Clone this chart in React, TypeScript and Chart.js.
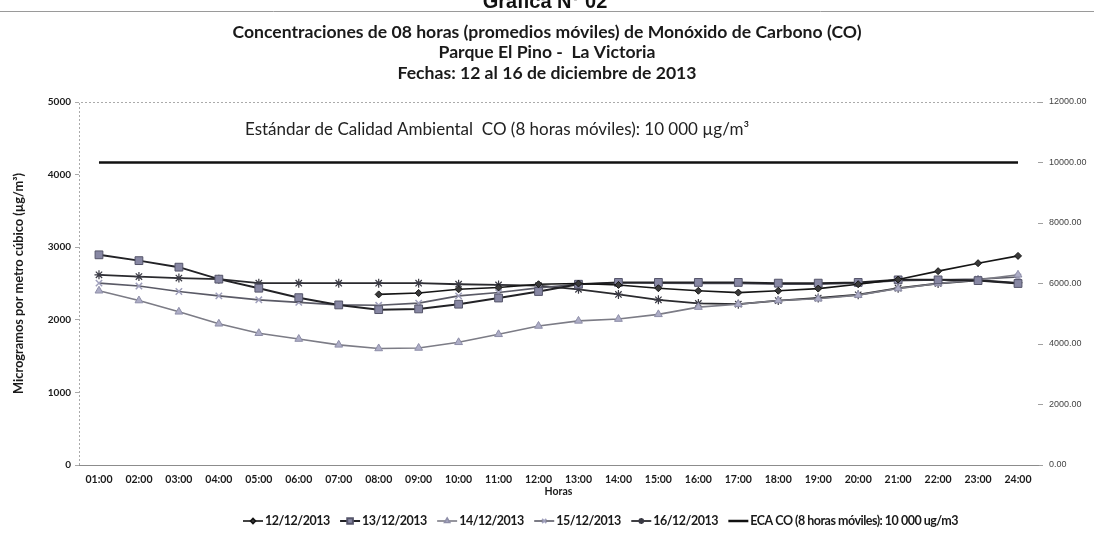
import React, { useEffect, useRef } from "react";
import { Chart, registerables } from "chart.js";
import { drawPoint } from "chart.js/helpers";

Chart.register(...registerables);

const topHeading = "Gráfica N° 02";
const titleLines = [
  "Concentraciones de 08 horas (promedios móviles) de Monóxido de Carbono (CO)",
  "Parque El Pino -  La Victoria",
  "Fechas: 12 al 16 de diciembre de 2013",
];
const ecaNote = "Estándar de Calidad Ambiental  CO (8 horas móviles): 10 000 µg/m³";

const hours = [
  "01:00", "02:00", "03:00", "04:00", "05:00", "06:00", "07:00", "08:00",
  "09:00", "10:00", "11:00", "12:00", "13:00", "14:00", "15:00", "16:00",
  "17:00", "18:00", "19:00", "20:00", "21:00", "22:00", "23:00", "24:00",
];

const labels1212 = "12/12/2013";
const labels1312 = "13/12/2013";
const labels1412 = "14/12/2013";
const labels1512 = "15/12/2013";
const labels1612 = "16/12/2013";
const labelEca = "ECA CO (8 horas móviles): 10 000 ug/m3";

const series1212 = [null, null, null, null, null, null, null, 2350, 2370, 2420, 2445, 2490, 2500, 2480, 2435, 2400, 2375, 2400, 2430, 2490, 2555, 2670, 2780, 2880];
const series1312 = [2895, 2815, 2725, 2560, 2435, 2305, 2205, 2140, 2150, 2215, 2300, 2390, 2490, 2515, 2515, 2515, 2515, 2505, 2505, 2515, 2550, 2550, 2540, 2500];
const series1412 = [2400, 2265, 2110, 1945, 1815, 1735, 1655, 1605, 1612, 1690, 1800, 1915, 1985, 2010, 2075, 2175, 2215, 2265, 2290, 2340, 2430, 2500, 2550, 2620];
const series1512 = [2505, 2465, 2390, 2330, 2275, 2240, 2205, 2200, 2230, 2330, 2375, 2440, 2490, 2510, 2505, 2500, 2500, 2490, 2490, 2505, 2540, 2550, 2560, 2590];
const series1612 = [2620, 2595, 2575, 2560, 2505, 2505, 2505, 2505, 2505, 2490, 2480, 2470, 2420, 2350, 2275, 2225, 2215, 2265, 2300, 2345, 2435, 2500, 2545, 2510];
const ecaValues = [10000, 10000, 10000, 10000, 10000, 10000, 10000, 10000, 10000, 10000, 10000, 10000, 10000, 10000, 10000, 10000, 10000, 10000, 10000, 10000, 10000, 10000, 10000, 10000];

const FONT = "Lato, 'Open Sans', sans-serif";

const extrasPlugin = {
  id: "extras",
  afterDraw(chart: any) {
    const { ctx, chartArea } = chart;
    ctx.save();
    // cut heading at top
    ctx.fillStyle = "#111";
    ctx.textAlign = "center";
    ctx.textBaseline = "alphabetic";
    ctx.font = "bold 20px 'Liberation Sans', Arial, sans-serif";
    ctx.fillText(topHeading, 545, 8);
    ctx.strokeStyle = "#9a9a9a";
    ctx.lineWidth = 1;
    ctx.beginPath();
    ctx.moveTo(0, 11.5);
    ctx.lineTo(1094, 11.5);
    ctx.stroke();

    // titles
    ctx.fillStyle = "#1a1a1a";
    ctx.font = `bold 17.6px ${FONT}`;
    ctx.textBaseline = "middle";
    titleLines.forEach((t, i) => ctx.fillText(t, 547, 32 + i * 20.5));

    // annotation
    ctx.font = `17px ${FONT}`;
    ctx.fillStyle = "#222";
    ctx.fillText(ecaNote, 497, 130);

    // dotted top border and left axis
    ctx.setLineDash([2, 2]);
    ctx.strokeStyle = "#aaaaaa";
    ctx.lineWidth = 1;
    ctx.beginPath();
    ctx.moveTo(chartArea.left + 0.5, chartArea.bottom);
    ctx.lineTo(chartArea.left + 0.5, chartArea.top + 0.5);
    ctx.lineTo(chartArea.right, chartArea.top + 0.5);
    ctx.stroke();
    ctx.setLineDash([]);

    // legend
    const ds = chart.data.datasets;
    ctx.font = `bold 12.5px ${FONT}`;
    (ctx as any).letterSpacing = "-0.5px";
    const seg = 20;
    const gapIn = 2;
    const widths = ds.map((d: any) => seg + gapIn + ctx.measureText(d.label).width);
    const total = widths.reduce((a: number, b: number) => a + b, 0);
    const startX = 243;
    const endX = 958;
    const gap = Math.max(6, (endX - startX - total) / (ds.length - 1));
    let x = startX;
    const y = 521;
    ds.forEach((d: any, i: number) => {
      ctx.strokeStyle = d.borderColor;
      ctx.lineWidth = d.borderWidth;
      ctx.beginPath();
      ctx.moveTo(x, y);
      ctx.lineTo(x + seg, y);
      ctx.stroke();
      if (d.pointRadius > 0) {
        ctx.fillStyle = d.pointBackgroundColor;
        ctx.strokeStyle = d.pointBorderColor;
        drawPoint(ctx, {
          pointStyle: d.pointStyle,
          rotation: 0,
          radius: Math.max(2.5, d.pointRadius - 1.5),
          borderWidth: d.pointBorderWidth,
        }, x + seg / 2, y);
      }
      ctx.fillStyle = "#1a1a1a";
      ctx.textAlign = "left";
      ctx.textBaseline = "middle";
      ctx.fillText(d.label, x + seg + gapIn, y);
      x += widths[i] + gap;
    });
    (ctx as any).letterSpacing = "0px";
    ctx.restore();
  },
};

export default function App() {
  const canvasRef = useRef<HTMLCanvasElement | null>(null);

  useEffect(() => {
    const canvas = canvasRef.current;
    if (!canvas) return;
    const chart = new Chart(canvas, {
      type: "line",
      data: {
        labels: hours,
        datasets: [
          {
            label: labels1212,
            data: series1212,
            yAxisID: "y",
            borderColor: "#151515",
            borderWidth: 1.6,
            pointStyle: "rectRot",
            pointRadius: 3.5,
            pointBackgroundColor: "#3a3a3a",
            pointBorderColor: "#151515",
            pointBorderWidth: 1,
          },
          {
            label: labels1312,
            data: series1312,
            yAxisID: "y",
            borderColor: "#222226",
            borderWidth: 2,
            pointStyle: "rect",
            pointRadius: 5.5,
            pointBackgroundColor: "#8787a3",
            pointBorderColor: "#55556a",
            pointBorderWidth: 1,
          },
          {
            label: labels1412,
            data: series1412,
            yAxisID: "y",
            borderColor: "#7c7c86",
            borderWidth: 1.6,
            pointStyle: "triangle",
            pointRadius: 4.5,
            pointBackgroundColor: "#adadc6",
            pointBorderColor: "#8e8ea8",
            pointBorderWidth: 1,
          },
          {
            label: labels1512,
            data: series1512,
            yAxisID: "y",
            borderColor: "#5a5a66",
            borderWidth: 1.6,
            pointStyle: "crossRot",
            pointRadius: 4.5,
            pointBackgroundColor: "#a8a8c4",
            pointBorderColor: "#a0a0bc",
            pointBorderWidth: 1.5,
          },
          {
            label: labels1612,
            data: series1612,
            yAxisID: "y",
            borderColor: "#2a2a2e",
            borderWidth: 1.8,
            pointStyle: "star",
            pointRadius: 4.5,
            pointBackgroundColor: "#55555f",
            pointBorderColor: "#3a3a44",
            pointBorderWidth: 1.2,
          },
          {
            label: labelEca,
            data: ecaValues,
            yAxisID: "y2",
            borderColor: "#111111",
            borderWidth: 2.5,
            pointRadius: 0,
            pointStyle: "line",
            pointBackgroundColor: "#111",
            pointBorderColor: "#111",
            pointBorderWidth: 0,
          },
        ],
      },
      options: {
        responsive: false,
        animation: false,
        layout: { padding: { top: 102, bottom: 40, left: 0, right: 0 } },
        plugins: {
          legend: { display: false },
          title: { display: false },
          tooltip: { enabled: false },
        },
        elements: { line: { tension: 0 } },
        scales: {
          x: {
            type: "category",
            offset: true,
            grid: { display: false, drawTicks: false },
            border: { display: true, color: "#8c8c8c", width: 1 },
            ticks: {
              color: "#1a1a1a",
              font: { family: FONT, size: 10.5, weight: "bold" },
              padding: 8,
              maxRotation: 0,
              autoSkip: false,
            },
            title: {
              display: true,
              text: "Horas",
              color: "#1a1a1a",
              font: { family: FONT, size: 10.5, weight: "bold" },
              padding: { top: 0, bottom: 2 },
            },
            afterFit: (s: any) => { s.height = 35; },
          },
          y: {
            position: "left",
            min: 0,
            max: 5000,
            grid: { display: true, drawOnChartArea: false, drawTicks: true, tickLength: 4, color: "#aaaaaa" },
            border: { display: false },
            ticks: {
              stepSize: 1000,
              color: "#1a1a1a",
              font: { family: FONT, size: 10, weight: "bold" },
              padding: 4,
              callback: (v: any) => String(v),
            },
            title: {
              display: true,
              text: "Microgramos por metro cúbico (µg/m³)",
              color: "#1a1a1a",
              font: { family: FONT, size: 12.8, weight: "bold" },
              padding: { top: 11, bottom: 0 },
            },
            afterFit: (s: any) => { s.width = 79; },
          },
          y2: {
            position: "right",
            min: 0,
            max: 12000,
            grid: { display: true, drawOnChartArea: false, drawTicks: true, tickLength: 5, color: "#a0a0a0" },
            border: { display: false },
            ticks: {
              stepSize: 2000,
              color: "#444",
              font: { family: "'Liberation Sans', Arial, sans-serif", size: 9 },
              padding: 6,
              callback: (v: any) => Number(v).toFixed(2),
            },
            afterFit: (s: any) => { s.width = 56; },
          },
        },
      },
      plugins: [extrasPlugin],
    } as any);
    return () => chart.destroy();
  }, []);

  return (
    <div style={{ position: "absolute", left: 0, top: 0, width: 1094, height: 540, background: "#fff" }}>
      <canvas ref={canvasRef} width={1094} height={540} />
    </div>
  );
}
